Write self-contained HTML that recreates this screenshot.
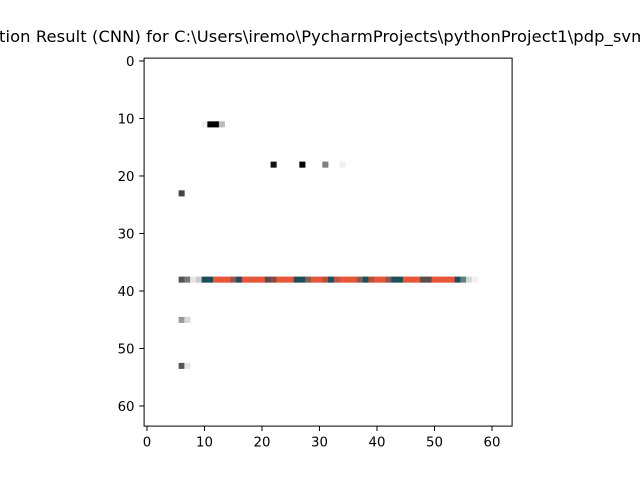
<!DOCTYPE html>
<html><head><meta charset="utf-8"><style>
html,body{margin:0;padding:0;background:#fff;}
svg{display:block;font-family:"DejaVu Sans","Liberation Sans",sans-serif;}
</style></head><body>
<svg id="chart" width="640" height="480" viewBox="0 0 640 480">
<rect width="640" height="480" fill="#fff"/>
<text x="-1" y="42" font-size="16.3" textLength="648" lengthAdjust="spacing">tion Result (CNN) for C:\Users\iremo\PycharmProjects\pythonProject1\pdp_svm</text>
<g id="cells"></g>
<rect x="144.1" y="58.1" width="368" height="368" fill="none" stroke="#000" stroke-width="1"/>
<g id="ticks"></g>
</svg>
<script>
const T="#1f4e5a", O="#e8563a";
const pxRows = [11,11,11,11, 18,18,18,18, 23, 45,45, 53,53];
const pxCols = [10,11,12,13, 22,27,31,34, 6, 6,7, 6,7];
const pxColors = ["#f0f0f0","#000","#000","#bbb", "#111","#000","#808080","#f0f0f0", "#444", "#999","#d8d8d8", "#555","#e5e5e5"];
const lineRow = 38;
const lineStartCol = 6;
const lineColors = ["#555","#777","#e5e5e5","#ccc",T,T,O,O,O,"#8a5a52",T,O,O,O,O,"#5a4a4a","#8a4a42",O,O,O,T,T,"#8a5a52",O,O,"#b5503a",T,"#b85540",O,O,O,"#8a5a52",T,"#b5503a",O,O,"#8a5a52",T,T,O,O,O,"#5e4c4c","#5e4c4c",O,O,O,O,T,"#5f8088","#d8d8d8","#f2f2f2"];
const xTicks = [0,10,20,30,40,50,60];
const yTicks = [0,10,20,30,40,50,60];
const NS="http://www.w3.org/2000/svg";
const x0=144.1, y0=58.1, s=368/64;
const X = v => x0 + (v+0.5)*s;
const Y = v => y0 + (v+0.5)*s;
const cells=document.getElementById('cells');
function cell(row,col,color){
  const r=document.createElementNS(NS,'rect');
  r.setAttribute('x',X(col-0.5));
  r.setAttribute('y',Y(row-0.5));
  r.setAttribute('width',s+0.3);
  r.setAttribute('height',s+0.3);
  r.setAttribute('fill',color);
  
  
  cells.appendChild(r);
}
for(let i=0;i<pxRows.length;i++) cell(pxRows[i],pxCols[i],pxColors[i]);
lineColors.forEach((c,i)=>cell(lineRow,lineStartCol+i,c));
const tg=document.getElementById('ticks');
xTicks.forEach(t=>{
  const l=document.createElementNS(NS,'line');
  l.setAttribute('x1',X(t));l.setAttribute('x2',X(t));
  l.setAttribute('y1',426.1);l.setAttribute('y2',431);
  l.setAttribute('stroke','#000');l.setAttribute('stroke-width','1');
  
  
  tg.appendChild(l);
  const tx=document.createElementNS(NS,'text');
  tx.setAttribute('x',X(t));tx.setAttribute('y',446.5);
  tx.setAttribute('font-size','13.3');tx.setAttribute('text-anchor','middle');
  tx.textContent=t;
  
  
  tg.appendChild(tx);
});
yTicks.forEach(t=>{
  const l=document.createElementNS(NS,'line');
  l.setAttribute('x1',139.2);l.setAttribute('x2',144.1);
  l.setAttribute('y1',Y(t));l.setAttribute('y2',Y(t));
  l.setAttribute('stroke','#000');l.setAttribute('stroke-width','1');
  
  
  tg.appendChild(l);
  const tx=document.createElementNS(NS,'text');
  tx.setAttribute('x',134.5);tx.setAttribute('y',Y(t)+4.8);
  tx.setAttribute('font-size','13.3');tx.setAttribute('text-anchor','end');
  tx.textContent=t;
  
  
  tg.appendChild(tx);
});
</script>
</body></html>
